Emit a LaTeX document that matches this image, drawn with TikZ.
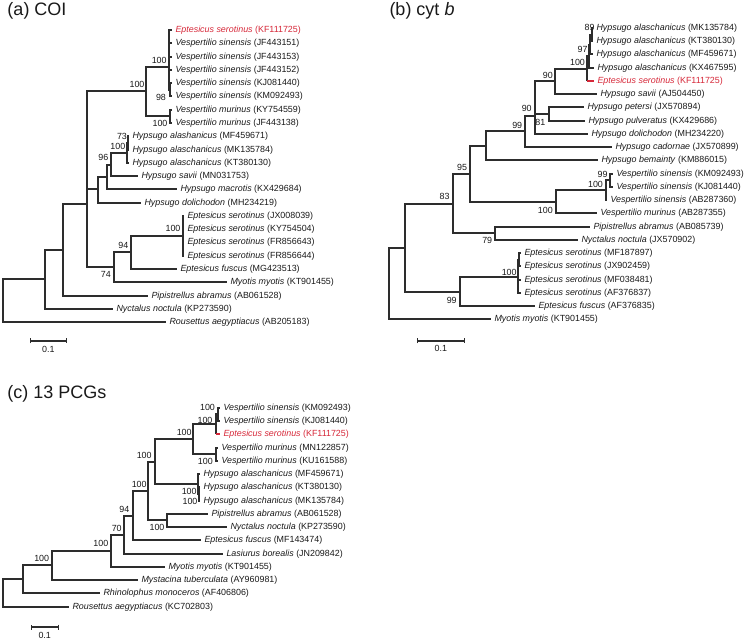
\documentclass[tikz,border=0pt]{standalone}
\usepackage{fontspec}
\setmainfont{Liberation Sans}
\usetikzlibrary{arrows.meta}
\definecolor{ecol}{RGB}{214,40,57}
\definecolor{ink}{RGB}{25,25,25}
\definecolor{lnk}{RGB}{45,45,45}
\newcommand\spn[2]{\textit{#1} (#2)}
\newcommand\ed[2]{\draw[br] (#1) |- (#2);}
\newcommand\edr[2]{\draw[br] (#1) -- (#1 |- #2); \draw[br,draw=ecol] (#1 |- #2) -- (#2);}
\begin{document}
\begin{tikzpicture}[x=1pt,y=-1pt,
  br/.style={line width=1.4pt, draw=lnk},
  lf/.style={anchor=west, inner xsep=3.3pt, inner ysep=0pt, font=\fontsize{8.9}{10}\selectfont, text=ink},
  lfr/.style={lf, text=ecol},
  bs/.style={inner sep=0pt, font=\fontsize{8.9}{10}\selectfont, text=ink},
  ttl/.style={anchor=base west, inner sep=0pt, font=\fontsize{18}{21}\selectfont, text=ink},
  sbar/.style={line width=1.4pt, draw=lnk, {Bar[width=5pt]}-{Bar[width=5pt]}}]
\path[use as bounding box] (0,0) rectangle (745,639);

% ================= (a) COI =================
\node[ttl] (ta) at (7.3,15.5) {(a) COI};
\node[lfr] (la0) at (172,30) {\spn{Eptesicus serotinus}{KF111725}};
\node[lf] (la1) at (172,43) {\spn{Vespertilio sinensis}{JF443151}};
\node[lf] (la2) at (172,57) {\spn{Vespertilio sinensis}{JF443153}};
\node[lf] (la3) at (172,70) {\spn{Vespertilio sinensis}{JF443152}};
\node[lf] (la4) at (172,83) {\spn{Vespertilio sinensis}{KJ081440}};
\node[lf] (la5) at (172,96) {\spn{Vespertilio sinensis}{KM092493}};
\node[lf] (la6) at (172,110) {\spn{Vespertilio murinus}{KY754559}};
\node[lf] (la7) at (172,123) {\spn{Vespertilio murinus}{JF443138}};
\node[lf] (la8) at (129,136) {\spn{Hypsugo alashanicus}{MF459671}};
\node[lf] (la9) at (129,150) {\spn{Hypsugo alaschanicus}{MK135784}};
\node[lf] (la10) at (129,163) {\spn{Hypsugo alaschanicus}{KT380130}};
\node[lf] (la11) at (138,176) {\spn{Hypsugo savii}{MN031753}};
\node[lf] (la12) at (177,189) {\spn{Hypsugo macrotis}{KX429684}};
\node[lf] (la13) at (141,203) {\spn{Hypsugo dolichodon}{MH234219}};
\node[lf] (la14) at (184,216) {\spn{Eptesicus serotinus}{JX008039}};
\node[lf] (la15) at (184,229) {\spn{Eptesicus serotinus}{KY754504}};
\node[lf] (la16) at (184,242) {\spn{Eptesicus serotinus}{FR856643}};
\node[lf] (la17) at (184,256) {\spn{Eptesicus serotinus}{FR856644}};
\node[lf] (la18) at (177,269) {\spn{Eptesicus fuscus}{MG423513}};
\node[lf] (la19) at (227,282) {\spn{Myotis myotis}{KT901455}};
\node[lf] (la20) at (148,296) {\spn{Pipistrellus abramus}{AB061528}};
\node[lf] (la21) at (113,309) {\spn{Nyctalus noctula}{KP273590}};
\node[lf] (la22) at (166,322) {\spn{Rousettus aegyptiacus}{AB205183}};

\coordinate (aroot) at (3,301);
\coordinate (aN1) at (45,279);
\coordinate (aN2) at (63,250);
\coordinate (aN3) at (87,204);
\coordinate (aY) at (87,141);
\coordinate (aV) at (146,91);
\coordinate (aA) at (169,67);
\coordinate (a98) at (170,90);
\coordinate (aM) at (170,116);
\coordinate (aNd) at (98,189);
\coordinate (aNm) at (107,177);
\coordinate (a96) at (111,165);
\coordinate (aH) at (127,153);
\coordinate (a73) at (128,143);
\coordinate (a74) at (114,267);
\coordinate (aE94) at (131,252);
\coordinate (aE) at (183,236);

\ed{aroot}{aN1} \ed{aroot}{la22.west}
\ed{aN1}{aN2} \ed{aN1}{la21.west}
\ed{aN2}{aN3} \ed{aN2}{la20.west}
\ed{aN3}{aY} \ed{aN3}{a74}
\ed{aY}{aV} \ed{aY}{aNd}
\ed{aV}{aA} \ed{aV}{aM}
\ed{aA}{la0.west} \ed{aA}{la1.west} \ed{aA}{la2.west} \ed{aA}{la3.west} \ed{aA}{a98}
\ed{a98}{la4.west} \ed{a98}{la5.west}
\ed{aM}{la6.west} \ed{aM}{la7.west}
\ed{aNd}{aNm} \ed{aNd}{la13.west}
\ed{aNm}{a96} \ed{aNm}{la12.west}
\ed{a96}{aH} \ed{a96}{la11.west}
\ed{aH}{a73} \ed{aH}{la10.west}
\ed{a73}{la8.west} \ed{a73}{la9.west}
\ed{a74}{aE94} \ed{a74}{la19.west}
\ed{aE94}{aE} \ed{aE94}{la18.west}
\ed{aE}{la14.west} \ed{aE}{la15.west} \ed{aE}{la16.west} \ed{aE}{la17.west}

\node[bs] (bsa1) at (159.2,60) {100};
\node[bs] (bsa2) at (161,97.5) {98};
\node[bs] (bsa3) at (137,84.3) {100};
\node[bs] (bsa4) at (160,123.3) {100};
\node[bs] (bsa5) at (122,136) {73};
\node[bs] (bsa6) at (117.8,146) {100};
\node[bs] (bsa7) at (103.3,157.3) {96};
\node[bs] (bsa8) at (173,228.7) {100};
\node[bs] (bsa9) at (123.3,245) {94};
\node[bs] (bsa10) at (105.8,274.3) {74};

\coordinate (sa1) at (30,341);
\coordinate (sa2) at (67,341);
\draw[sbar] (sa1) -- (sa2);
\node[bs] (sla) at (48.3,349.5) {0.1};

% ================= (b) cyt b =================
\node[ttl] (tb) at (389.3,15.5) {(b) cyt \textit{b}};
\node[lf] (lb0) at (593,28) {\spn{Hypsugo alaschanicus}{MK135784}};
\node[lf] (lb1) at (593,41) {\spn{Hypsugo alaschanicus}{KT380130}};
\node[lf] (lb2) at (593,54) {\spn{Hypsugo alaschanicus}{MF459671}};
\node[lf] (lb3) at (594,68) {\spn{Hypsugo alaschanicus}{KX467595}};
\node[lfr] (lb4) at (594,81) {\spn{Eptesicus serotinus}{KF111725}};
\node[lf] (lb5) at (597,94) {\spn{Hypsugo savii}{AJ504450}};
\node[lf] (lb6) at (584,107) {\spn{Hypsugo petersi}{JX570894}};
\node[lf] (lb7) at (585,121) {\spn{Hypsugo pulveratus}{KX429686}};
\node[lf] (lb8) at (588,134) {\spn{Hypsugo dolichodon}{MH234220}};
\node[lf] (lb9) at (612,147) {\spn{Hypsugo cadornae}{JX570899}};
\node[lf] (lb10) at (598,160) {\spn{Hypsugo bemainty}{KM886015}};
\node[lf] (lb11) at (613,174) {\spn{Vespertilio sinensis}{KM092493}};
\node[lf] (lb12) at (613,187) {\spn{Vespertilio sinensis}{KJ081440}};
\node[lf] (lb13) at (607,200) {\spn{Vespertilio sinensis}{AB287360}};
\node[lf] (lb14) at (597,213) {\spn{Vespertilio murinus}{AB287355}};
\node[lf] (lb15) at (590,227) {\spn{Pipistrellus abramus}{AB085739}};
\node[lf] (lb16) at (578,240) {\spn{Nyctalus noctula}{JX570902}};
\node[lf] (lb17) at (521,253) {\spn{Eptesicus serotinus}{MF187897}};
\node[lf] (lb18) at (521,266) {\spn{Eptesicus serotinus}{JX902459}};
\node[lf] (lb19) at (521,280) {\spn{Eptesicus serotinus}{MF038481}};
\node[lf] (lb20) at (521,293) {\spn{Eptesicus serotinus}{AF376837}};
\node[lf] (lb21) at (535,306) {\spn{Eptesicus fuscus}{AF376835}};
\node[lf] (lb22) at (491,319) {\spn{Myotis myotis}{KT901455}};

\coordinate (broot) at (389,284);
\coordinate (bL) at (405,248);
\coordinate (b83) at (453,204);
\coordinate (b95) at (470,174);
\coordinate (bB) at (486,146);
\coordinate (b99) at (525,131);
\coordinate (bY) at (535,116);
\coordinate (bZ) at (535,98);
\coordinate (b90a) at (555,81);
\coordinate (b100) at (587,69);
\coordinate (b97) at (589,56);
\coordinate (ba) at (590,45);
\coordinate (b89) at (592,35);
\coordinate (bpp) at (549,114);
\coordinate (bVesp) at (556,202);
\coordinate (bV100) at (606,190);
\coordinate (bKK) at (610,180);
\coordinate (bPN) at (495,233);
\coordinate (b99b) at (460,292);
\coordinate (bE) at (518,277);
\coordinate (bEi) at (519,260);

\ed{broot}{bL} \ed{broot}{lb22.west}
\ed{bL}{b83} \ed{bL}{b99b}
\ed{b83}{b95} \ed{b83}{bPN}
\ed{b95}{bB} \ed{b95}{bVesp}
\ed{bB}{b99} \ed{bB}{lb10.west}
\ed{b99}{bY} \ed{b99}{lb9.west}
\ed{bY}{bZ} \ed{bY}{lb8.west}
\ed{bZ}{b90a} \ed{bZ}{bpp}
\ed{b90a}{b100} \ed{b90a}{lb5.west}
\ed{b100}{b97} \edr{b100}{lb4.west}
\ed{b97}{ba} \ed{b97}{lb3.west}
\ed{ba}{b89} \ed{ba}{lb2.west}
\ed{b89}{lb0.west} \ed{b89}{lb1.west}
\ed{bpp}{lb6.west} \ed{bpp}{lb7.west}
\ed{bVesp}{bV100} \ed{bVesp}{lb14.west}
\ed{bV100}{bKK} \ed{bV100}{lb13.west}
\ed{bKK}{lb11.west} \ed{bKK}{lb12.west}
\ed{bPN}{lb15.west} \ed{bPN}{lb16.west}
\ed{b99b}{bE} \ed{b99b}{lb21.west}
\ed{bE}{bEi} \ed{bE}{lb19.west} \ed{bE}{lb20.west}
\ed{bEi}{lb17.west} \ed{bEi}{lb18.west}

\node[bs] (bsb1) at (589.5,27) {89};
\node[bs] (bsb2) at (582.5,49.3) {97};
\node[bs] (bsb3) at (577.5,62) {100};
\node[bs] (bsb4) at (547.8,75.3) {90};
\node[bs] (bsb5) at (526.7,108.7) {90};
\node[bs] (bsb6) at (540.3,122) {81};
\node[bs] (bsb7) at (517.2,125.3) {99};
\node[bs] (bsb8) at (462,167.3) {95};
\node[bs] (bsb9) at (444.5,196.7) {83};
\node[bs] (bsb10) at (602.5,174) {99};
\node[bs] (bsb11) at (595.5,184) {100};
\node[bs] (bsb12) at (545.3,210) {100};
\node[bs] (bsb13) at (487.2,240.7) {79};
\node[bs] (bsb14) at (509.2,272.7) {100};
\node[bs] (bsb15) at (451.7,300) {99};

\coordinate (sb1) at (417,341);
\coordinate (sb2) at (465,341);
\draw[sbar] (sb1) -- (sb2);
\node[bs] (slb) at (440.8,348.5) {0.1};

% ================= (c) 13 PCGs =================
\node[ttl] (tc) at (7.3,398.3) {(c) 13 PCGs};
\node[lf] (lc0) at (220,408) {\spn{Vespertilio sinensis}{KM092493}};
\node[lf] (lc1) at (220,421) {\spn{Vespertilio sinensis}{KJ081440}};
\node[lfr] (lc2) at (220,434) {\spn{Eptesicus serotinus}{KF111725}};
\node[lf] (lc3) at (218,448) {\spn{Vespertilio murinus}{MN122857}};
\node[lf] (lc4) at (218,461) {\spn{Vespertilio murinus}{KU161588}};
\node[lf] (lc5) at (200,474) {\spn{Hypsugo alaschanicus}{MF459671}};
\node[lf] (lc6) at (200,487) {\spn{Hypsugo alaschanicus}{KT380130}};
\node[lf] (lc7) at (200,501) {\spn{Hypsugo alaschanicus}{MK135784}};
\node[lf] (lc8) at (208,514) {\spn{Pipistrellus abramus}{AB061528}};
\node[lf] (lc9) at (227,527) {\spn{Nyctalus noctula}{KP273590}};
\node[lf] (lc10) at (201,540) {\spn{Eptesicus fuscus}{MF143474}};
\node[lf] (lc11) at (223,554) {\spn{Lasiurus borealis}{JN209842}};
\node[lf] (lc12) at (165,567) {\spn{Myotis myotis}{KT901455}};
\node[lf] (lc13) at (138,580) {\spn{Mystacina tuberculata}{AY960981}};
\node[lf] (lc14) at (100,593) {\spn{Rhinolophus monoceros}{AF406806}};
\node[lf] (lc15) at (69,607) {\spn{Rousettus aegyptiacus}{KC702803}};

\coordinate (croot) at (3,593);
\coordinate (cR) at (23,579);
\coordinate (c100d) at (52,565);
\coordinate (c100c) at (111,551);
\coordinate (c70) at (124,535);
\coordinate (c94) at (133,516);
\coordinate (cC) at (148,491);
\coordinate (cB) at (155,462);
\coordinate (cVesp) at (193,439);
\coordinate (cVE) at (216,424);
\coordinate (cKK) at (218,414);
\coordinate (cM) at (216,454);
\coordinate (cHo) at (198,484);
\coordinate (cHi) at (199,494);
\coordinate (cPN) at (167,520);

\ed{croot}{cR} \ed{croot}{lc15.west}
\ed{cR}{c100d} \ed{cR}{lc14.west}
\ed{c100d}{c100c} \ed{c100d}{lc13.west}
\ed{c100c}{c70} \ed{c100c}{lc12.west}
\ed{c70}{c94} \ed{c70}{lc11.west}
\ed{c94}{cC} \ed{c94}{lc10.west}
\ed{cC}{cB} \ed{cC}{cPN}
\ed{cB}{cVesp} \ed{cB}{cHo}
\ed{cVesp}{cVE} \ed{cVesp}{cM}
\ed{cVE}{cKK} \edr{cVE}{lc2.west}
\ed{cKK}{lc0.west} \ed{cKK}{lc1.west}
\ed{cM}{lc3.west} \ed{cM}{lc4.west}
\ed{cHo}{lc5.west} \ed{cHo}{cHi}
\ed{cHi}{lc6.west} \ed{cHi}{lc7.west}
\ed{cPN}{lc8.west} \ed{cPN}{lc9.west}

\node[bs] (bsc1) at (207.5,407.3) {100};
\node[bs] (bsc2) at (205,420) {100};
\node[bs] (bsc3) at (184.2,432.7) {100};
\node[bs] (bsc4) at (205.3,461.7) {100};
\node[bs] (bsc5) at (189.2,491.7) {100};
\node[bs] (bsc6) at (190,501.7) {100};
\node[bs] (bsc7) at (144.2,455) {100};
\node[bs] (bsc8) at (139.2,484) {100};
\node[bs] (bsc9) at (157,527.7) {100};
\node[bs] (bsc10) at (124.3,509.3) {94};
\node[bs] (bsc11) at (116.7,528.3) {70};
\node[bs] (bsc12) at (100.8,543.3) {100};
\node[bs] (bsc13) at (41.7,558.3) {100};

\coordinate (sc1) at (31,627);
\coordinate (sc2) at (59,627);
\draw[sbar] (sc1) -- (sc2);
\node[bs] (slc) at (44.7,635) {0.1};
\end{tikzpicture}
\end{document}
